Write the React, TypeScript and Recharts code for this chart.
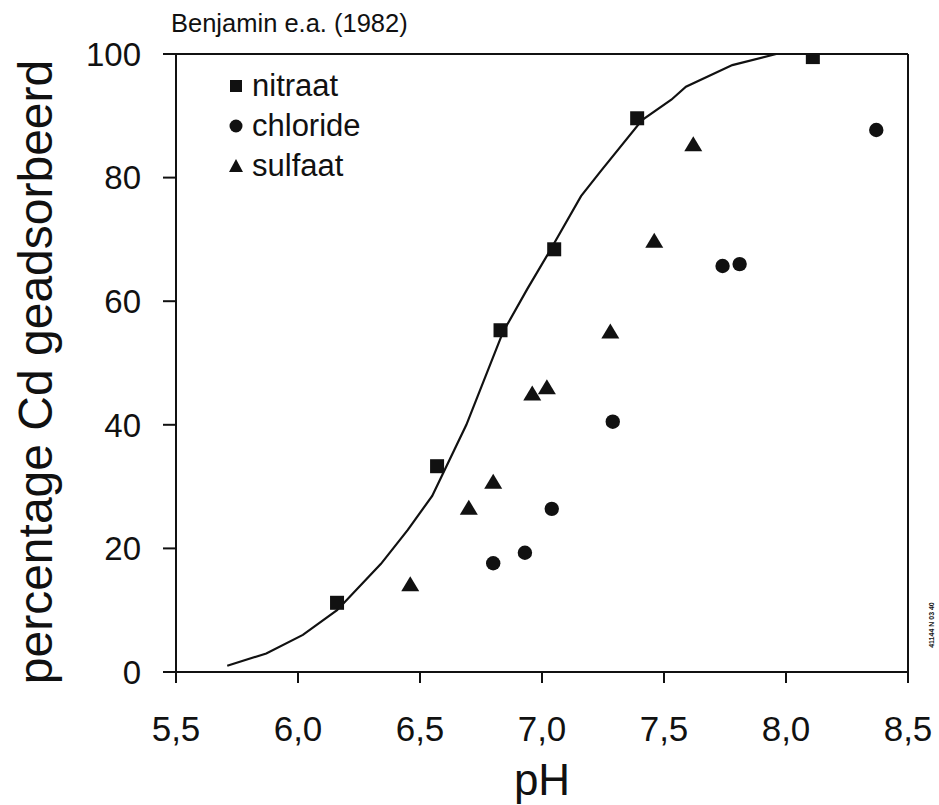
import {
  ComposedChart,
  Legend,
  Line,
  ReferenceLine,
  Scatter,
  XAxis,
  YAxis,
} from "recharts";

// Cd adsorption (%) against pH for three background electrolytes
const nitraatPh = [6.16, 6.57, 6.83, 7.05, 7.39, 8.11];
const nitraatPct = [11.2, 33.3, 55.3, 68.4, 89.6, 99.5];

const chloridePh = [6.8, 6.93, 7.04, 7.29, 7.74, 7.81, 8.37];
const chloridePct = [17.6, 19.3, 26.4, 40.5, 65.7, 66.0, 87.7];

const sulfaatPh = [6.46, 6.7, 6.8, 6.96, 7.02, 7.28, 7.46, 7.62];
const sulfaatPct = [14.1, 26.5, 30.7, 45.0, 46.0, 55.0, 69.7, 85.3];

// model curve
const curvePh = [5.71, 5.87, 6.02, 6.16, 6.34, 6.45, 6.55, 6.69, 6.84, 6.94, 7.03, 7.16, 7.24, 7.41, 7.53, 7.59, 7.78, 7.96];
const curvePct = [1.0, 3.0, 6.0, 10.0, 17.5, 23.0, 28.5, 40.0, 55.0, 62.0, 68.0, 77.0, 81.0, 89.3, 92.6, 94.7, 98.2, 100.0];

const xTicks = [5.5, 6.0, 6.5, 7.0, 7.5, 8.0, 8.5];
const yTicks = [0, 20, 40, 60, 80, 100];

const zip = (xs: number[], ys: number[]) => xs.map((x, i) => ({ x, y: ys[i] }));

const nitraat = zip(nitraatPh, nitraatPct);
const chloride = zip(chloridePh, chloridePct);
const sulfaat = zip(sulfaatPh, sulfaatPct);
const curve = zip(curvePh, curvePct);

const FONT = '"Liberation Sans", Arial, Helvetica, sans-serif';
const INK = "#111";

type Pt = { cx?: number; cy?: number };

const SquareDot = ({ cx = 0, cy = 0 }: Pt) => (
  <rect x={cx - 7} y={cy - 7} width={14} height={14} fill={INK} />
);
const CircleDot = ({ cx = 0, cy = 0 }: Pt) => <circle cx={cx} cy={cy} r={7.2} fill={INK} />;
const TriangleDot = ({ cx = 0, cy = 0 }: Pt) => (
  <polygon points={`${cx},${cy - 8.5} ${cx - 9},${cy + 6.5} ${cx + 9},${cy + 6.5}`} fill={INK} />
);

const legendItems = [
  { name: "nitraat", icon: <rect x={1} y={1} width={12} height={12} fill={INK} /> },
  { name: "chloride", icon: <circle cx={7} cy={7} r={6.5} fill={INK} /> },
  { name: "sulfaat", icon: <polygon points="7,0 0,13 14,13" fill={INK} /> },
];

const renderLegend = () => (
  <div style={{ fontFamily: FONT, fontSize: 31, color: INK, lineHeight: "40px" }}>
    {legendItems.map((it) => (
      <div key={it.name} style={{ display: "flex", alignItems: "center" }}>
        <svg width={14} height={14} style={{ marginRight: 9 }}>
          {it.icon}
        </svg>
        {it.name}
      </div>
    ))}
  </div>
);

const fmt = (v: number) => v.toFixed(1).replace(".", ",");

export default function App() {
  return (
    <div style={{ position: "absolute", left: 0, top: 0, width: 939, height: 805, background: "#fff" }}>
      <ComposedChart
        width={939}
        height={805}
        margin={{ top: 54, right: 31, left: 76, bottom: 33 }}
      >
        <XAxis
          type="number"
          dataKey="x"
          domain={[5.5, 8.5]}
          ticks={xTicks}
          tickFormatter={fmt}
          height={100}
          tickSize={11}
          tickMargin={33}
          stroke={INK}
          strokeWidth={2}
          tick={{ fill: INK, fontSize: 35, fontFamily: FONT }}
          allowDataOverflow
        />
        <YAxis
          type="number"
          dataKey="y"
          domain={[0, 100]}
          ticks={yTicks}
          width={100}
          tickSize={13}
          tickMargin={22}
          stroke={INK}
          strokeWidth={2}
          tick={{ fill: INK, fontSize: 33, fontFamily: FONT }}
          allowDataOverflow
        />
        <ReferenceLine y={100} stroke={INK} strokeWidth={2} />
        <ReferenceLine x={8.5} stroke={INK} strokeWidth={2} />
        <Line
          data={curve}
          dataKey="y"
          type="linear"
          stroke={INK}
          strokeWidth={2.2}
          dot={false}
          legendType="none"
          isAnimationActive={false}
        />
        <Scatter name="nitraat" data={nitraat} dataKey="y" shape={SquareDot} isAnimationActive={false} />
        <Scatter name="chloride" data={chloride} dataKey="y" shape={CircleDot} isAnimationActive={false} />
        <Scatter name="sulfaat" data={sulfaat} dataKey="y" shape={TriangleDot} isAnimationActive={false} />
        <Legend
          layout="vertical"
          align="center"
          verticalAlign="middle"
          content={renderLegend}
          wrapperStyle={{ position: "absolute", left: 229, top: 66, width: "auto" }}
        />
      </ComposedChart>
      <svg
        width={939}
        height={805}
        style={{ position: "absolute", left: 0, top: 0, pointerEvents: "none" }}
      >
        <text x={171} y={32} fontFamily={FONT} fontSize={25.5} fill={INK}>
          Benjamin e.a. (1982)
        </text>
        <text
          x={52}
          y={372}
          transform="rotate(-90 52 372)"
          textAnchor="middle"
          fontFamily={FONT}
          fontSize={48}
          fill={INK}
        >
          percentage Cd geadsorbeerd
        </text>
        <text x={542} y={795} textAnchor="middle" fontFamily={FONT} fontSize={44} fill={INK}>
          pH
        </text>
        <text
          x={934}
          y={625}
          transform="rotate(-90 934 625)"
          textAnchor="middle"
          fontFamily={FONT}
          fontSize={7}
          fontWeight="bold"
          fill={INK}
        >
          41144 N 03 40
        </text>
      </svg>
    </div>
  );
}
